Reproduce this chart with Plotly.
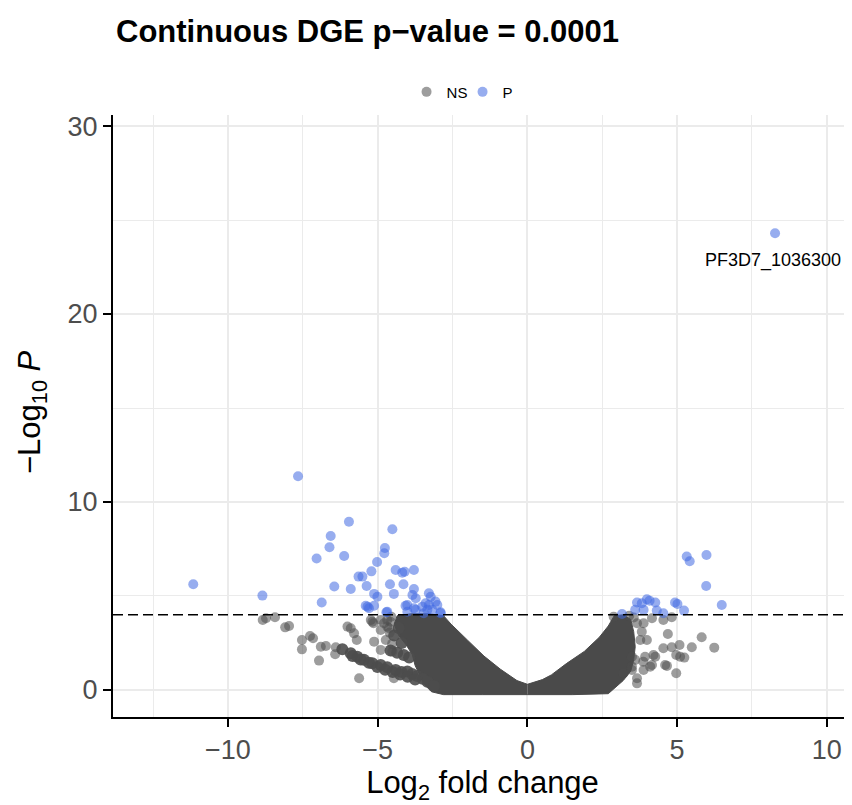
#!/usr/bin/env python3
"""
Volcano plot: continuous DGE at p-value cutoff 0.0001.
"""

import plotly.graph_objects as go

p_cutoff = 4  # -log10(0.0001)

# significant genes (P)
p_x = [-11.16, -8.85, -7.66, -6.87, -6.57, -6.61, -7.04, -5.96, -6.12, -6.45,
       -5.90, -5.64, -5.51, -5.37, -5.21, -5.02, -4.78, -4.76, -4.51, -4.40,
       -4.18, -4.10, -3.79, -4.59, -4.14, -4.46, -5.12, -5.01, -3.79, -3.84,
       -3.73, -3.29, -3.23, -3.07, -5.40, -5.29, -5.12, -4.71, -4.07, -3.73,
       -3.29, -3.40, -2.90, -4.01, -3.51, -3.79, -3.34, -4.68, -3.46, -3.18,
       -3.01, -4.01, -2.90, -5.34,
       5.32, 5.42, 5.98, 5.97, 6.49, 4.93, 5.01, 5.23, 3.16, 3.66,
       3.82, 3.99, 4.08, 4.27, 3.60, 3.88, 4.32, 4.54, 8.27]
p_y = [5.62, 5.02, 11.37, 4.65, 8.19, 7.59, 6.99, 8.95, 7.13, 5.50,
       5.37, 6.03, 6.03, 5.53, 6.31, 6.81, 7.27, 7.55, 8.55, 6.38,
       6.24, 6.29, 6.38, 5.62, 5.62, 5.11, 5.11, 4.96, 5.37, 5.05,
       4.88, 5.14, 4.96, 4.70, 4.48, 4.35, 4.48, 4.13, 4.48, 4.26,
       4.52, 4.61, 4.13, 4.52, 4.43, 4.35, 4.26, 4.16, 4.08, 4.26,
       4.52, 4.16, 4.08, 4.43,
       7.10, 6.85, 7.18, 5.53, 4.52, 4.65, 4.57, 4.22, 4.04, 4.65,
       4.61, 4.82, 4.75, 4.65, 4.26, 4.26, 4.22, 4.08, 24.30]

# scattered non-significant genes (NS)
ns_x = [-8.84, -8.73, -8.43, -8.09, -7.96, -7.53, -7.26, -7.16, -7.53, -6.96,
        -6.90, -6.73, -6.42, -6.40, -6.01, -5.90, -5.79, -5.70, -5.62, -5.12,
        -4.90, -5.14, -4.90, -4.73, -4.62, -5.18, -4.90, -4.68, -4.68, -4.51,
        -4.46, -5.23, -4.79, -4.57, -4.55, -4.60, -4.52,
        2.88, 4.16, 4.54, 4.82, 4.69, 5.82, 6.24, 5.49, 5.08, 4.82,
        4.54, 5.10, 5.24, 4.97, 4.60, 4.66, 4.21, 4.27, 3.99, 3.93,
        3.88, 4.10, 3.66, 3.66, 3.21, 3.88, 3.82, 3.49, 3.49, 4.16,
        4.97, 3.66, 3.77, 3.60, 3.87, 3.49, 3.40, 3.55]
ns_y = [3.72, 3.81, 3.87, 3.33, 3.40, 2.66, 2.87, 2.75, 2.16, 1.56,
        2.30, 2.34, 1.90, 2.27, 3.37, 3.28, 3.01, 2.66, 0.62, 2.57,
        2.13, 3.55, 3.19, 2.66, 3.28, 3.63, 3.72, 3.72, 3.37, 2.04,
        0.62, 3.72, 3.55, 3.63, 3.90, 3.05, 2.45,
        3.90, 3.81, 3.72, 3.87, 2.98, 2.80, 2.25, 2.27, 2.39, 2.27,
        2.22, 1.77, 1.72, 0.89, 1.33, 1.28, 1.86, 1.77, 2.66, 1.77,
        1.06, 1.24, 0.62, 0.35, 0.89, 3.55, 3.10, 1.77, 1.24, 1.33,
        1.86, 3.55, 2.66, 1.60, 1.50, 1.06, 3.95, 3.85]

# NS genes piled up in the low-count streaks left of the core
streak_x = [-6.18, -5.90, -5.68, -5.46, -5.18, -4.90, -4.68, -4.40, -4.20, -4.01,
            -3.85, -3.68, -3.50, -3.34, -3.12,
            -5.84, -5.57, -5.29, -5.01, -4.75, -4.50, -4.25, -4.00, -3.75,
            -4.57, -4.35, -4.13, -3.95, -4.30, -4.45, -4.20]
streak_y = [2.16, 1.95, 1.77, 1.60, 1.42, 1.33, 1.21, 1.06, 0.95, 0.98,
            0.85, 0.74, 0.60, 0.44, 0.21,
            1.80, 1.62, 1.45, 1.22, 1.08, 0.95, 0.82, 0.70, 0.55,
            2.10, 1.98, 1.86, 1.72, 3.30, 2.90, 2.50]

# outlines of the solid NS mass (thousands of overlapping genes)
core_left_x = [0, -0.35, -0.9, -1.45, -2.0, -2.55, -2.8, -3.3, -3.9, -4.35,
               -4.45, -4.3, -4.05, -3.85, -3.75, -3.6, -3.45, -3.2, -2.8, -1.5, 0]
core_left_y = [0.3, 0.5, 1.1, 1.8, 2.65, 3.5, 3.95, 4.05, 4.05, 3.95,
               3.5, 2.9, 2.4, 1.9, 1.3, 0.75, 0.3, -0.1, -0.25, -0.25, -0.25]
core_right_x = [0, 0.5, 0.8, 1.3, 1.9, 2.4, 2.7, 2.9, 3.2, 3.45,
                3.55, 3.6, 3.55, 3.45, 3.2, 2.9, 2.7, 1.5, 0]
core_right_y = [0.3, 0.55, 0.8, 1.4, 2.05, 2.8, 3.4, 3.95, 4.0, 3.75,
                3.1, 2.3, 1.6, 1.0, 0.5, 0.05, -0.2, -0.25, -0.25]

label_gene = "PF3D7_1036300"
label_x = 8.27
label_y = 24.30

NS_COLOR = "#4d4d4d"
P_COLOR = "royalblue"
FONT = "Liberation Sans, Arial, Helvetica, sans-serif"
PAGE_PAD = 8  # the page body adds an 8px margin; pull the figure back by it


def main():
    fig = go.Figure()

    for cx, cy in [(core_left_x, core_left_y), (core_right_x, core_right_y)]:
        fig.add_trace(go.Scatter(
            x=cx, y=cy, mode="lines", fill="toself",
            fillcolor="#4a4a4a", line=dict(color="#4a4a4a", width=1),
            hoverinfo="skip", showlegend=False,
        ))

    fig.add_trace(go.Scatter(
        x=streak_x, y=streak_y, mode="markers", showlegend=False,
        marker=dict(color=NS_COLOR, size=12, opacity=0.9, line_width=0),
    ))
    fig.add_trace(go.Scatter(
        x=ns_x, y=ns_y, mode="markers", name="NS",
        marker=dict(color=NS_COLOR, size=10, opacity=0.55, line_width=0),
    ))
    fig.add_trace(go.Scatter(
        x=p_x, y=p_y, mode="markers", name="P",
        marker=dict(color=P_COLOR, size=10, opacity=0.55, line_width=0),
    ))

    fig.add_hline(y=p_cutoff, line=dict(color="black", width=1.6, dash="10px,5px"))

    fig.add_annotation(
        x=label_x, y=label_y, text=label_gene, showarrow=False,
        yshift=-27, xshift=-2, font=dict(size=18, color="black", family=FONT),
    )

    # y axis title placed by hand, ggplot sits it a little above the panel middle
    fig.add_annotation(
        text="\u2212Log<sub>10</sub> <i>P</i>", textangle=-90,
        xref="paper", yref="paper", x=(32 - 113) / 739, y=(717 - 412) / 602,
        xanchor="center", yanchor="middle", showarrow=False,
        font=dict(size=31, color="black", family=FONT),
    )

    axis_common = dict(
        showline=True, linecolor="black", linewidth=2,
        ticks="outside", ticklen=8, tickwidth=2, tickcolor="black",
        tickfont=dict(size=27, color="#4D4D4D", family=FONT),
        showgrid=True, gridcolor="#EBEBEB", gridwidth=2,
        zeroline=False,
    )
    fig.update_xaxes(
        range=[-13.84, 10.84], tick0=0, dtick=5,
        minor=dict(dtick=2.5, showgrid=True, gridcolor="#EBEBEB", gridwidth=1, ticks=""),
        title=dict(text="Log<sub>2</sub> fold change", standoff=6,
                   font=dict(size=31, color="black", family=FONT)),
        **axis_common,
    )
    fig.update_yaxes(
        range=[-1.44, 30.59], tick0=0, dtick=10,
        minor=dict(dtick=5, showgrid=True, gridcolor="#EBEBEB", gridwidth=1, ticks=""),
        **axis_common,
    )

    fig.update_layout(
        width=852, height=805,
        margin=dict(l=113 - PAGE_PAD, r=PAGE_PAD, t=115 - PAGE_PAD,
                    b=88 + PAGE_PAD, autoexpand=False),
        plot_bgcolor="white", paper_bgcolor="white",
        title=dict(
            text="<b>Continuous DGE p\u2212value = 0.0001</b>",
            x=(116 - PAGE_PAD) / 852, xanchor="left", xref="container",
            y=1 - (31 - PAGE_PAD) / 805, yanchor="middle", yref="container",
            font=dict(size=31, color="black", family=FONT),
        ),
        legend=dict(
            orientation="h", x=0.473, xanchor="center", y=1.038, yanchor="middle",
            font=dict(size=15, color="black", family=FONT),
            bgcolor="rgba(0,0,0,0)", itemwidth=30,
            entrywidth=11, entrywidthmode="pixels",
        ),
        font=dict(family=FONT),
    )

    fig.write_html("out.html")


if __name__ == "__main__":
    main()
